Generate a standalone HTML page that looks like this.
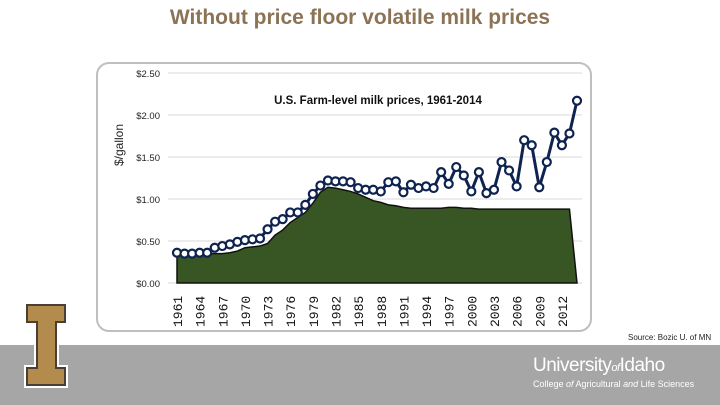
<!DOCTYPE html>
<html><head><meta charset="utf-8"><style>
body{margin:0;width:720px;height:405px;overflow:hidden;background:#fff;font-family:"Liberation Sans",sans-serif;position:relative}
.abs{position:absolute}
</style></head><body>
<div class="abs" style="left:0;width:720px;top:6px;text-align:center;font-size:21px;font-weight:bold;color:#8c7355">Without price floor volatile milk prices</div>
<div class="abs" style="left:0;top:345px;width:720px;height:60px;background:#a6a6a6"></div>
<svg class="abs" style="left:0;top:290px" width="100" height="110">
<path d="M27 15H65V32H56V78H65V95H27V78H37V32H27Z" fill="#b38b4d" stroke="#fff" stroke-width="6" stroke-linejoin="miter"/>
<path d="M27 15H65V32H56V78H65V95H27V78H37V32H27Z" fill="#b38b4d" stroke="#4a3f35" stroke-width="2"/>
</svg>
<div class="abs" style="left:628px;top:333px;font-size:8px;color:#222">Source: Bozic U. of MN</div>
<div class="abs" style="left:533px;top:355px;font-size:19px;color:#fff;letter-spacing:-0.5px">University<i style="font-size:11px">of</i>Idaho</div>
<div class="abs" style="left:533px;top:379px;font-size:9px;color:#fff">College <i>of</i> Agricultural <i>and</i> Life Sciences</div>
<svg class="abs" id="chart" style="left:0;top:0" width="720" height="345"></svg>
<script>
const years=[];for(let y=1961;y<=2014;y++)years.push(y);
const prices=[.36,.35,.35,.36,.36,.42,.44,.46,.49,.51,.52,.53,.64,.73,.76,.84,.84,.93,1.06,1.16,1.22,1.21,1.21,1.20,1.13,1.11,1.11,1.09,1.20,1.21,1.08,1.17,1.13,1.15,1.13,1.32,1.18,1.38,1.28,1.09,1.32,1.07,1.11,1.44,1.34,1.15,1.70,1.64,1.14,1.44,1.79,1.64,1.78,2.17];
const support=[.33,.33,.34,.34,.35,.35,.35,.36,.38,.42,.43,.44,.47,.57,.63,.72,.78,.84,.95,1.08,1.14,1.13,1.11,1.09,1.06,1.02,.98,.96,.93,.92,.90,.89,.89,.89,.89,.89,.90,.90,.89,.89,.88,.88,.88,.88,.88,.88,.88,.88,.88,.88,.88,.88,.88,0];
const yTicks=[0,.5,1,1.5,2,2.5];
const yLabels=["$0.00","$0.50","$1.00","$1.50","$2.00","$2.50"];
const xLabelYears=[1961,1964,1967,1970,1973,1976,1979,1982,1985,1988,1991,1994,1997,2000,2003,2006,2009,2012];
const NS="http://www.w3.org/2000/svg",svg=document.getElementById('chart');
const X=y=>177+(y-1961)*(400/53), Y=v=>283-v*84;
function mk(t,a,p){const e=document.createElementNS(NS,t);for(const k in a)e.setAttribute(k,a[k]);(p||svg).appendChild(e);return e;}
const frame=mk('rect',{x:97,y:63,width:494,height:268,rx:12,fill:'#fff',stroke:'#bfbfbf','stroke-width':2});

yTicks.forEach((v,i)=>{const g=mk('line',{x1:168,x2:582,y1:Y(v),y2:Y(v),stroke:'#d9d9d9','stroke-width':1});

const t=mk('text',{x:160,y:Y(v)+4,'text-anchor':'end','font-size':9.5,fill:'#222','font-family':'Liberation Sans'});t.textContent=yLabels[i];
});
const yt=mk('text',{transform:'translate(123,145) rotate(-90)','text-anchor':'middle','font-size':12,fill:'#222','font-family':'Liberation Sans'});yt.textContent='$/gallon';

const ct=mk('text',{x:378,y:104,'text-anchor':'middle','font-size':11.5,'font-weight':'bold',fill:'#111','font-family':'Liberation Sans'});ct.textContent='U.S. Farm-level milk prices, 1961-2014';

let d='M'+X(years[0])+' '+Y(0);years.forEach((y,i)=>d+=' L'+X(y)+' '+Y(support[i]));d+=' L'+X(years[years.length-1])+' '+Y(0)+'Z';
const area=mk('path',{d:d,fill:'#375623',stroke:'#111','stroke-width':1.5});

const pl=mk('polyline',{points:years.map((y,i)=>X(y)+','+Y(prices[i])).join(' '),fill:'none',stroke:'#0f2350','stroke-width':3});

years.forEach((y,i)=>{const c=mk('circle',{cx:X(y),cy:Y(prices[i]),r:4,fill:'#fff',stroke:'#0f2350','stroke-width':2.2});
});
xLabelYears.forEach(y=>{const t=mk('text',{transform:'translate('+(X(y)+5)+',327) rotate(-90)','font-size':13,fill:'#111','font-family':'Liberation Mono'});t.textContent=y;
});
</script>
</body></html>
